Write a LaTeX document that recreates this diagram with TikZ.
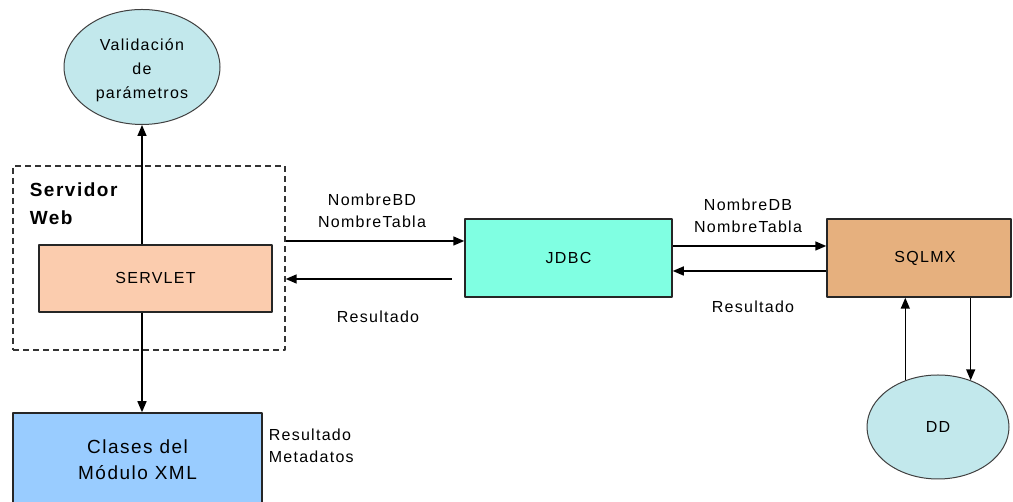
\documentclass[tikz,border=0pt]{standalone}
\usepackage{fontspec}
\setmainfont{Liberation Sans}[LetterSpace=8]
\usetikzlibrary{arrows.meta,shapes.geometric}
\definecolor{celeste}{HTML}{C2E8EC}
\definecolor{salmon}{HTML}{FBCCAE}
\definecolor{azul}{HTML}{99CCFF}
\definecolor{aguamar}{HTML}{80FFE2}
\definecolor{canela}{HTML}{E6B07E}
\begin{document}
\begin{tikzpicture}[x=1pt, y=1pt, line join=round, line width=1.5pt,
	>={Triangle[length=11pt,width=9pt]},
	txt/.style={font=\fontsize{16}{22}\selectfont, align=center, inner sep=0pt},
	caja/.style={draw=black!85, line width=1.5pt, inner sep=0pt, txt},
	elip/.style={ellipse, draw=black!75, line width=1pt, fill=celeste, inner sep=0pt, txt}]
	\useasboundingbox (0,0) rectangle (1013,502);
	\clip (0,0) rectangle (1013,502);
	% servidor web
	\node[draw=black!80, dash pattern=on 6pt off 4pt, line width=1.4pt, minimum width=272, minimum height=184] (web) at (149,244) {};
	\node[anchor=north west, inner sep=0pt, align=left, font=\fontsize{19}{28}\selectfont\bfseries] (webtxt) at (29,320) {Servidor\\Web};
	\node[caja, fill=salmon, minimum width=233, minimum height=67] (servlet) at (155.5,223.5) {SERVLET};
	\node[elip, minimum width=156, minimum height=115, font=\fontsize{16}{24}\selectfont] (valid) at (142,435) {\rule{0pt}{8pt}\\[-14pt]Validación\\de\\parámetros};
	\node[caja, fill=azul, minimum width=249, minimum height=94, font=\fontsize{19}{26}\selectfont] (clases) at (137.5,42) {Clases del\\Módulo XML};
	\node[txt, anchor=west, align=left] (meta) at (268,56) {Resultado\\Metadatos};
	% base de datos
	\node[caja, fill=aguamar, minimum width=207, minimum height=78] (jdbc) at (568.5,244) {JDBC};
	\node[caja, fill=canela, minimum width=184, minimum height=78] (sqlmx) at (919,244) {\hspace{12pt}SQLMX};
	\node[elip, minimum width=142, minimum height=104] (dd) at (938,75) {DD};
	% flechas
	\draw[->] (servlet.north -| valid.south) -- (valid.south);
	\draw[->] (servlet.south -| valid.south) -- (clases.north -| valid.south);
	\draw[->] ([yshift=17]web.east) -- ([yshift=17]jdbc.west);
	\draw[<-] ([yshift=-21]web.east) -- ([xshift=-12,yshift=-21]jdbc.west);
	\draw[->] ([yshift=12]jdbc.east) -- ([yshift=12]sqlmx.west);
	\draw[<-] ([yshift=-13]jdbc.east) -- ([yshift=-13]sqlmx.west);
	\draw[->] (dd.125) -- (dd.125 |- sqlmx.south);
	\draw[->] (dd.55 |- sqlmx.south) -- (dd.55);
	% etiquetas
	\node[txt] (pidejdbc) at (372,291) {NombreBD\\NombreTabla};
	\node[txt] (resjdbc) at (378,185) {Resultado};
	\node[txt] (pidesql) at (748,286) {NombreDB\\NombreTabla};
	\node[txt] (ressql) at (753,195) {Resultado};
\end{tikzpicture}
\end{document}
